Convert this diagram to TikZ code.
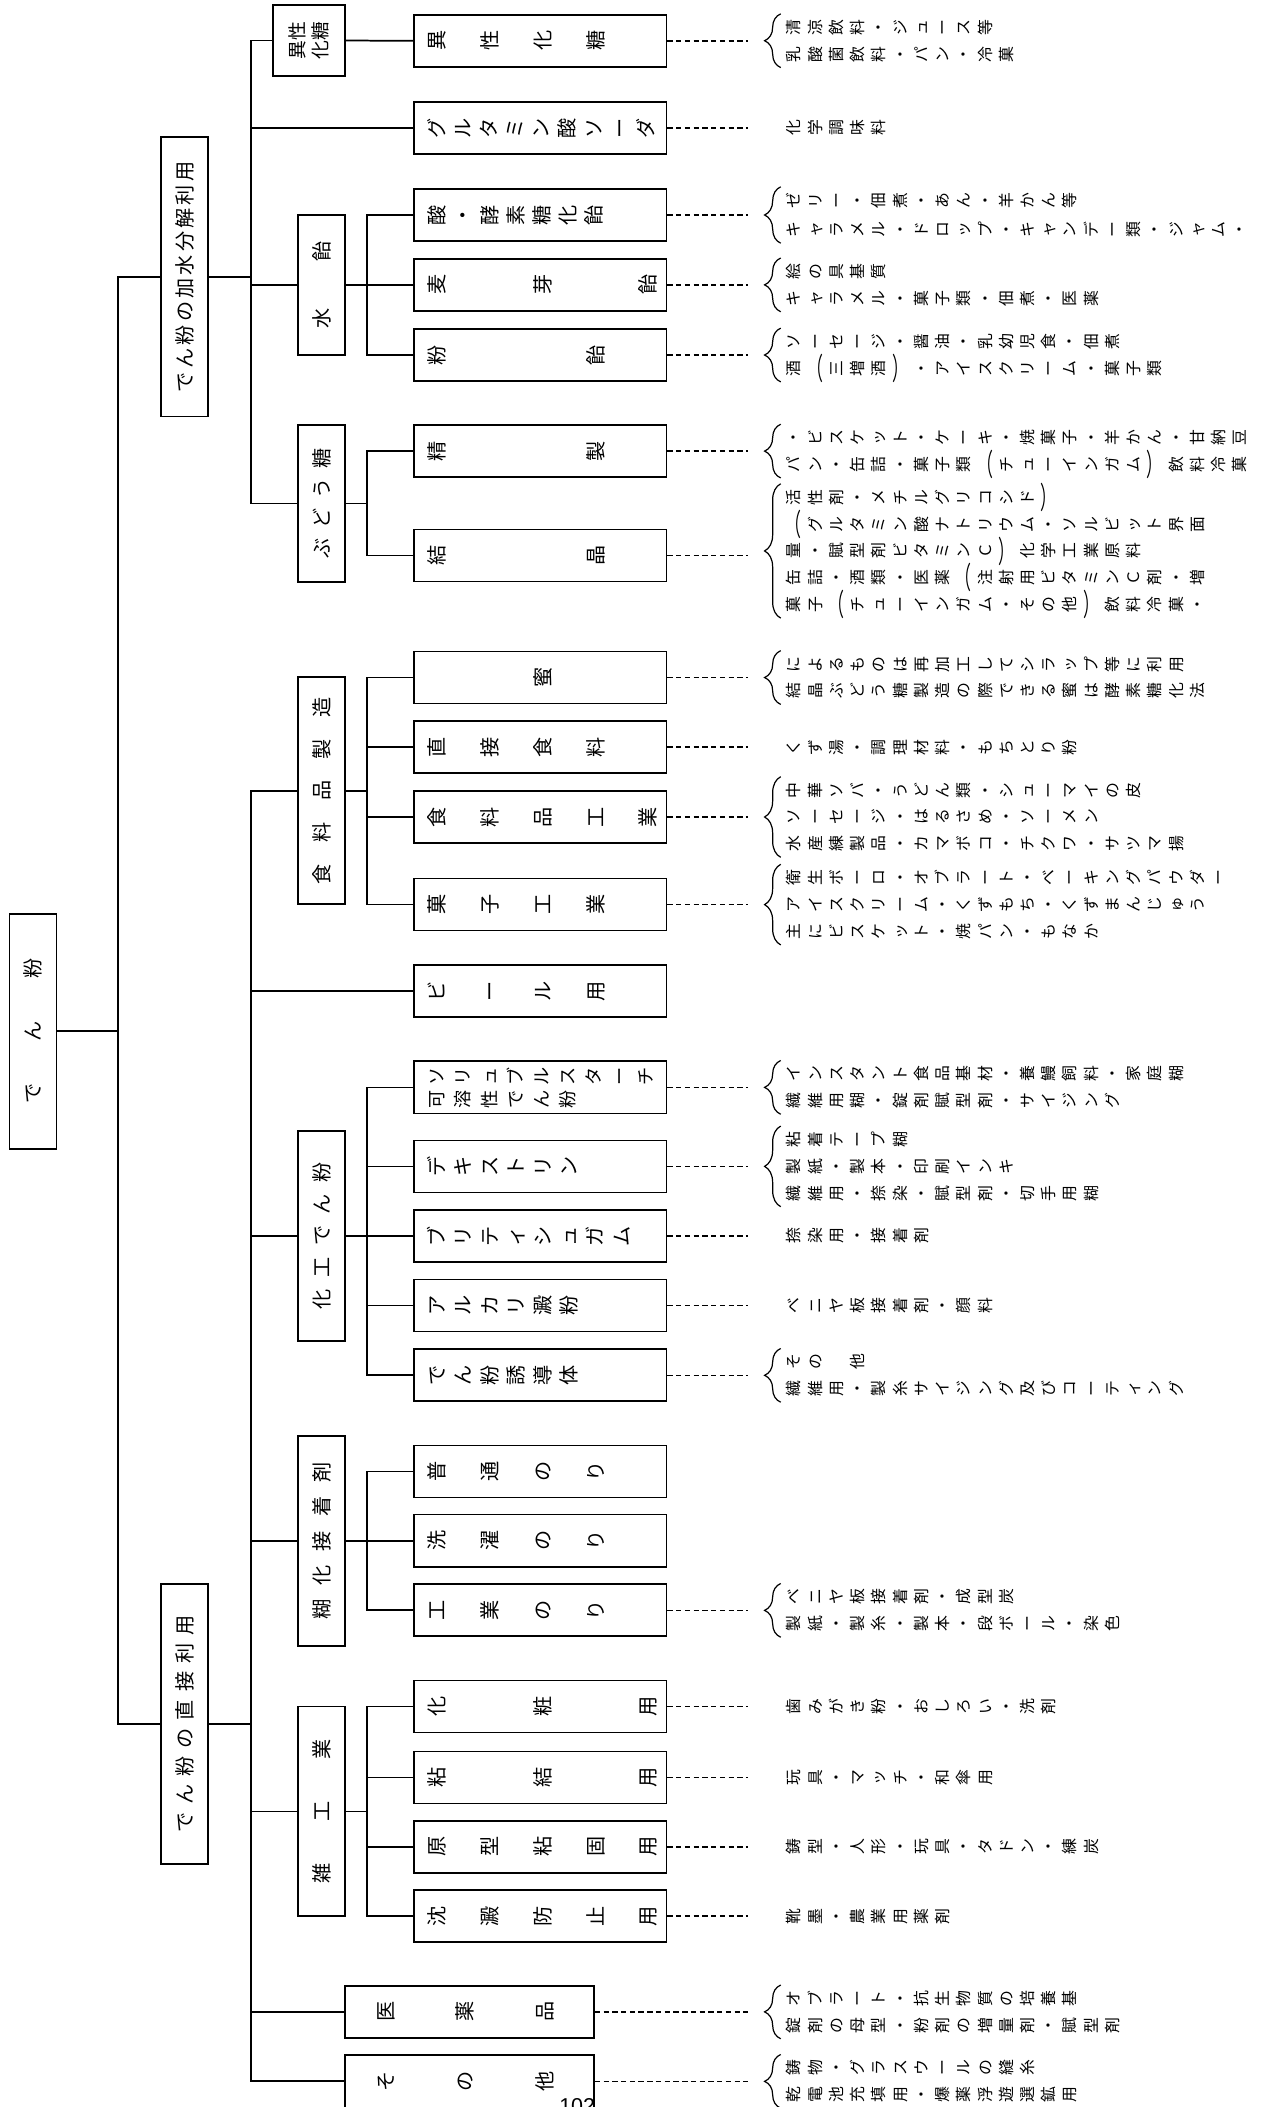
\documentclass[tikz,border=0pt]{standalone}
\usepackage{fontspec}
\usepackage{graphicx}
\usetikzlibrary{decorations.pathreplacing,calc}
\newfontfamily\jp{Noto Sans CJK JP}
\newfontfamily\lat{Liberation Sans}

\ExplSyntaxOn
\cs_new:Npn \my_glyph:n #1
 {
  \str_case:nnF {#1}
   {
    {︵} { \scalebox{1.9}[1]{︵} }
    {︶} { \scalebox{1.9}[1]{︶} }
   }
   { #1 }
 }
\tl_new:N \l_my_row_tl
\NewDocumentCommand{\vrow}{ m m }
 {
  \tl_set:No \l_my_row_tl {#2}
  \tl_map_inline:Nn \l_my_row_tl
   { \makebox[#1pt][c]{\rotatebox[origin=c]{90}{\raisebox{0pt}[0.88em][0.12em]{\makebox[1em][c]{\my_glyph:n {##1}}}}} }
 }
\NewDocumentCommand{\hrow}{ m m }
 {
  \tl_set:No \l_my_row_tl {#2}
  \tl_map_inline:Nn \l_my_row_tl
   { \makebox[#1pt][c]{\raisebox{0pt}[0.88em][0.12em]{\makebox[1em][c]{##1}}} }
 }
\ExplSyntaxOff

\tikzset{
 ln/.style={line width=1.3pt},
 bx/.style={draw, line width=1.3pt, inner sep=0pt},
 leafbox/.style={bx, minimum width=188pt, minimum height=38.7pt},
 tbox/.style={bx, minimum width=35pt},
 dsh/.style={line width=1.2pt, dash pattern=on 4pt off 2.5pt},
 brc/.style={decorate, decoration={brace, amplitude=12pt}, line width=0.9pt},
 dt/.style={anchor=west, inner sep=0pt, font=\jp\fontsize{11.8}{12}\selectfont},
 lbl/.style={anchor=west, inner sep=0pt, font=\jp\fontsize{15}{16}\selectfont},
 vt/.style={rotate=90, inner sep=0pt, font=\jp\fontsize{15}{16}\selectfont},
}
\newcommand\dr[3]{\node[dt] (#1) at (582.7,#2) {\vrow{15.8}{#3}};}
\newcommand\br[2]{\draw[brc] (581,#2) -- (581,#1);}

\begin{document}
\begin{tikzpicture}[x=1pt,y=-1pt]
\useasboundingbox (0,0) rectangle (941,1568);
\clip (0,0) rectangle (941,1568);
\fill[white] (0,0) rectangle (941,1568);

% ---------- root and second level
\node[bx, minimum width=35pt, minimum height=175pt] (root) at (24.5,767.5) {};
\node[vt] (roott) at (root) {\hrow{46.5}{でん粉}};
\node[tbox, minimum height=208pt] (sec1) at (137.5,206) {};
\node[vt] (sec1t) at (sec1) {\hrow{17.4}{でん粉の加水分解利用}};
\node[tbox, minimum height=208pt] (sec2) at (137.5,1283) {};
\node[vt] (sec2t) at (sec2) {\hrow{21}{でん粉の直接利用}};

% ---------- third level
\node[bx, minimum width=54pt, minimum height=53pt] (isoS) at (230,30.2) {};
\node[vt, align=center, font=\jp\fontsize{14}{17}\selectfont] (isoSt) at (isoS) {異性\\化糖};
\node[tbox, minimum height=104pt] (ameT) at (239.5,212) {};
\node[vt] (ameTt) at (ameT) {\hrow{49.6}{水飴}};
\node[tbox, minimum height=116.6pt] (budoT) at (239.5,374.7) {};
\node[vt] (budoTt) at (budoT) {\hrow{22.3}{ぶどう糖}};
\node[tbox, minimum height=169pt] (foodT) at (239.5,588.4) {};
\node[vt] (foodTt) at (foodT) {\hrow{31}{食料品製造}};
\node[tbox, minimum height=156pt] (kakoT) at (239.5,919.7) {};
\node[vt] (kakoTt) at (kakoT) {\hrow{23.6}{化工でん粉}};
\node[tbox, minimum height=156pt] (koT) at (239.5,1146.8) {};
\node[vt] (koTt) at (koT) {\hrow{25.4}{糊化接着剤}};
\node[tbox, minimum height=156pt] (zatT) at (239.5,1348) {};
\node[vt] (zatTt) at (zatT) {\hrow{46}{雑工業}};

% ---------- leaves
\foreach \nm/\cy/\p/\tx in {
 iso/30.3/39.3/異性化糖,
 glu/95.2/19.4/グルタミン酸ソーダ,
 a1/160/19.5/酸・酵素糖化飴,
 a2/212/39.3/麦　芽　飴,
 a3/264.2/39.3/粉　　飴,
 b1/335.7/39.3/精　　製,
 b2/413.4/39.3/結　　晶,
 f1/504.2/39.3/　　蜜,
 f2/556/39.3/直接食料,
 f3/608/39.3/食料品工業,
 f4/673.2/39.3/菓子工業,
 beer/737.7/39.3/ビール用,
 k2/868/19.6/デキストリン,
 k3/919.8/19.6/ブリティシュガム,
 k4/971.5/19.6/アルカリ澱粉,
 k5/1023.5/19.6/でん粉誘導体,
 n1/1095/39.3/普通のり,
 n2/1146.5/39.3/洗濯のり,
 n3/1198.4/39.3/工業のり,
 z1/1270/39.3/化　粧　用,
 z2/1322.7/39.3/粘　結　用,
 z3/1374.4/39.3/原型粘固用,
 z4/1426/39.3/沈澱防止用}
{
 \node[leafbox] (\nm) at (402,\cy) {};
 \node[lbl] (\nm t) at ({325-\p/2},\cy) {\vrow{\p}{\tx}};
}
\node[leafbox] (k1) at (402,809.2) {};
\node[lbl, font=\jp\fontsize{13.5}{14}\selectfont] (k1ta) at (315.3,801) {\vrow{19.4}{ソリュブルスターチ}};
\node[lbl, font=\jp\fontsize{13.5}{14}\selectfont] (k1tb) at (315.3,818) {\vrow{19.4}{可溶性でん粉}};
\node[bx, minimum width=185pt, minimum height=39pt] (med) at (349.5,1497.2) {};
\node[lbl] (medt) at (257.5,1497.2) {\vrow{59}{医薬品}};
\node[bx, minimum width=185pt, minimum height=39pt] (oth) at (349.5,1548.9) {};
\node[lbl] (otht) at (257.5,1548.9) {\vrow{59}{その他}};

% ---------- connectors
\coordinate (J0) at (88,767.5);
\draw[ln] (root.east) -- (J0);
\draw[ln] (sec1.west) -| (J0) |- (sec2.west);
\coordinate (J1) at (187,206);
\draw[ln] (sec1.east) -- (J1);
\draw[ln] (isoS.west) -| (J1) |- (budoT.west);
\draw[ln] (glu.west) -- (glu.west -| J1);
\draw[ln] (ameT.west) -- (ameT.west -| J1);
\draw[ln] (isoS.east) -- (iso.west);
\draw[ln] (ameT.east) -- (a2.west);
\coordinate (K1) at (273,212);
\draw[ln] (a1.west) -| (K1) |- (a3.west);
\coordinate (K2) at (273,374.7);
\draw[ln] (budoT.east) -- (K2);
\draw[ln] (b1.west) -| (K2) |- (b2.west);

\coordinate (J2) at (187,1283);
\draw[ln] (sec2.east) -- (J2);
\draw[ln] (foodT.west) -| (J2) |- (oth.west);
\foreach \n in {beer,kakoT,koT,zatT,med}
  \draw[ln] (\n.west) -- (\n.west -| J2);
\coordinate (K3) at (273,588.4);
\draw[ln] (foodT.east) -- (K3);
\draw[ln] (f1.west) -| (K3) |- (f4.west);
\draw[ln] (f2.west) -- (f2.west -| K3);
\draw[ln] (f3.west) -- (f3.west -| K3);
\coordinate (K4) at (273,919.7);
\draw[ln] (kakoT.east) -- (K4);
\draw[ln] (k1.west) -| (K4) |- (k5.west);
\foreach \n in {k2,k3,k4} \draw[ln] (\n.west) -- (\n.west -| K4);
\coordinate (K5) at (273,1146.8);
\draw[ln] (koT.east) -- (K5);
\draw[ln] (n1.west) -| (K5) |- (n3.west);
\draw[ln] (n2.west) -- (n2.west -| K5);
\coordinate (K6) at (273,1348);
\draw[ln] (zatT.east) -- (K6);
\draw[ln] (z1.west) -| (K6) |- (z4.west);
\foreach \n in {z2,z3} \draw[ln] (\n.west) -- (\n.west -| K6);

% ---------- dashed leaders
\coordinate (E) at (557,0);
\foreach \n in {iso,glu,a1,a2,a3,b1,b2,f1,f2,f3,f4,k1,k2,k3,k4,k5,n3,z1,z2,z3,z4,med,oth}
  \draw[dsh] (\n.east) -- (\n.east -| E);

% ---------- descriptions
\br{10.3}{50.3}
\dr{d1a}{20.35}{清涼飲料・ジュース等}
\dr{d1b}{40.25}{乳酸菌飲料・パン・冷菓}
\dr{d2}{95.2}{化学調味料}
\br{139}{181}
\dr{d3a}{149}{ゼリー・佃煮・あん・羊かん等}
\dr{d3b}{171}{キャラメル・ドロップ・キャンデー類・ジャム・}
\br{192}{232}
\dr{d4a}{202}{絵の具基質}
\dr{d4b}{222}{キャラメル・菓子類・佃煮・医薬}
\br{244.2}{284.2}
\dr{d5a}{254.2}{ソーセージ・醤油・乳幼児食・佃煮}
\dr{d5b}{274.2}{酒︵三増酒︶・アイスクリーム・菓子類}
\br{315.7}{355.7}
\dr{d6a}{325.7}{・ビスケット・ケーキ・焼菓子・羊かん・甘納豆}
\dr{d6b}{345.7}{パン・缶詰・菓子類︵チューインガム︶飲料冷菓}
\br{360}{460}
\dr{d7a}{370.2}{活性剤・メチルグリコシド︶}
\dr{d7b}{390.1}{︵グルタミン酸ナトリウム・ソルビット界面}
\dr{d7c}{410}{量・賦型剤ビタミンＣ︶化学工業原料}
\dr{d7d}{429.9}{缶詰・酒類・医薬︵注射用ビタミンＣ剤・増}
\dr{d7e}{449.8}{菓子︵チューインガム・その他︶飲料冷菓・}
\br{484.2}{524.2}
\dr{d8a}{494.2}{によるものは再加工してシラップ等に利用}
\dr{d8b}{514.2}{結晶ぶどう糖製造の際できる蜜は酵素糖化法}
\dr{d9}{556}{くず湯・調理材料・もちとり粉}
\br{578}{638}
\dr{d10a}{588.1}{中華ソバ・うどん類・シューマイの皮}
\dr{d10b}{608}{ソーセージ・はるさめ・ソーメン}
\dr{d10c}{627.9}{水産練製品・カマボコ・チクワ・サツマ揚}
\br{643.2}{703.2}
\dr{d11a}{653.3}{衛生ボーロ・オブラート・ベーキングパウダー}
\dr{d11b}{673.2}{アイスクリーム・くずもち・くずまんじゅう}
\dr{d11c}{693.1}{主にビスケット・焼パン・もなか}
\br{789.2}{829.2}
\dr{d12a}{799.2}{インスタント食品基材・養鰻飼料・家庭糊}
\dr{d12b}{819.2}{繊維用糊・錠剤賦型剤・サイジング}
\br{838}{898}
\dr{d13a}{848.1}{粘着テープ糊}
\dr{d13b}{868}{製紙・製本・印刷インキ}
\dr{d13c}{887.9}{繊維用・捺染・賦型剤・切手用糊}
\dr{d14}{919.8}{捺染用・接着剤}
\dr{d15}{971.5}{ベニヤ板接着剤・顔料}
\br{1003.5}{1043.5}
\dr{d16a}{1013.5}{その　他}
\dr{d16b}{1033.5}{繊維用・製糸サイジング及びコーティング}
\br{1178.4}{1218.4}
\dr{d17a}{1188.4}{ベニヤ板接着剤・成型炭}
\dr{d17b}{1208.4}{製紙・製糸・製本・段ボール・染色}
\dr{d18}{1270}{歯みがき粉・おしろい・洗剤}
\dr{d19}{1322.7}{玩具・マッチ・和傘用}
\dr{d20}{1374.4}{鋳型・人形・玩具・タドン・練炭}
\dr{d21}{1426}{靴墨・農業用薬剤}
\br{1477.2}{1517.2}
\dr{d22a}{1487.2}{オブラート・抗生物質の培養基}
\dr{d22b}{1507.2}{錠剤の母型・粉剤の増量剤・賦型剤}
\br{1528.9}{1568.9}
\dr{d23a}{1538.9}{鋳物・グラスウールの縫糸}
\dr{d23b}{1558.9}{乾電池充填用・爆薬浮遊選鉱用}

% ---------- page number
\node[anchor=base west, inner sep=0pt, font=\lat\fontsize{16}{16}\selectfont] (pg) at (416,1573) {102};
\end{tikzpicture}
\end{document}
